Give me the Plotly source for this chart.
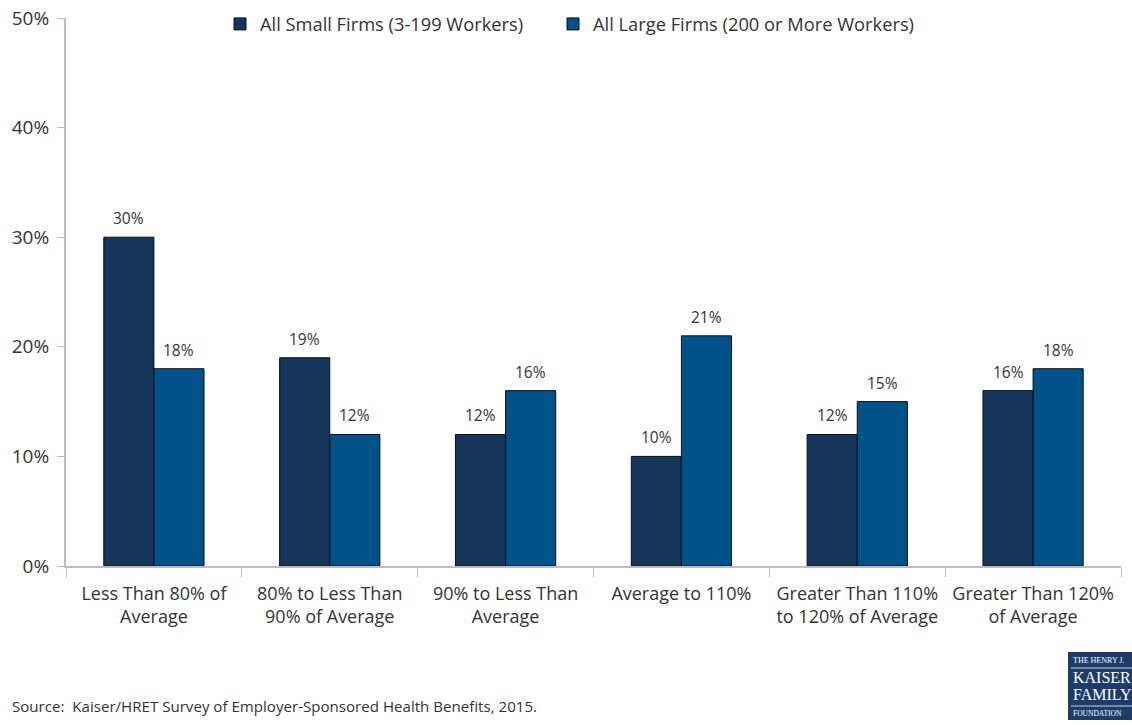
import plotly.graph_objects as go

categories = [
    "Less Than 80% of<br>Average",
    "80% to Less Than<br>90% of Average",
    "90% to Less Than<br>Average",
    "Average to 110%",
    "Greater Than 110%<br>to 120% of Average",
    "Greater Than 120%<br>of Average",
]
small_firms = [30, 19, 12, 10, 12, 16]
large_firms = [18, 12, 16, 21, 15, 18]
series_names = ["All Small Firms (3-199 Workers)", "All Large Firms (200 or More Workers)"]
y_ticks = [0, 10, 20, 30, 40, 50]

FONT = "Open Sans"
TEXT = "#333333"
AXIS = "#bdbdbd"
NAVY = "#15355a"
BLUE = "#005288"

L, R, T, B = 66, 11, 18, 159
W, H = 1132, 725
PW, PH = W - L - R, H - T - B
BARGAP = 0.43
bar_px = PW / len(categories) * (1 - BARGAP) / 2


def px_x(x):
    return (x - L) / PW


def px_y(y):
    return (T + PH - y) / PH


fig = go.Figure()
series = [
    (series_names[0], small_firms, NAVY, -1, "legend"),
    (series_names[1], large_firms, BLUE, 1, "legend2"),
]
for name, vals, color, side, leg in series:
    fig.add_trace(go.Bar(
        x=categories, y=vals, name=name, legend=leg,
        marker=dict(color=color, line=dict(color="#0a0f18", width=1)),
    ))
    # value labels above each bar
    for c, v in zip(categories, vals):
        fig.add_annotation(x=c, y=v, text=f"{v}%", showarrow=False,
                           xshift=side * bar_px / 2, yshift=6, yanchor="bottom",
                           font=dict(family=FONT, size=15.5, color=TEXT))

legend_style = dict(orientation="h", xanchor="left", y=px_y(24), yanchor="middle",
                    font=dict(family=FONT, size=18.3, color=TEXT),
                    itemwidth=30, bgcolor="rgba(0,0,0,0)")

fig.update_layout(
    width=W, height=H,
    margin=dict(l=L, r=R, t=T, b=B, autoexpand=False),
    paper_bgcolor="white", plot_bgcolor="white",
    barmode="group", bargap=BARGAP, bargroupgap=0,
    font=dict(family=FONT, color=TEXT),
    showlegend=True,
    legend=dict(x=px_x(220), **legend_style),
    legend2=dict(x=px_x(553), **legend_style),
    xaxis=dict(type="category", showline=True, linecolor=AXIS, linewidth=2, automargin=False,
               ticks="outside", tickson="boundaries", ticklen=9, tickcolor=AXIS, tickwidth=1,
               ticklabelstandoff=10,
               tickfont=dict(family=FONT, size=18, color=TEXT), showgrid=False),
    yaxis=dict(range=[0, 50], tickvals=y_ticks, ticktext=[f"{t}%" for t in y_ticks],
               showline=True, linecolor=AXIS, linewidth=2, automargin=False,
               ticks="outside", ticklen=7, tickcolor=AXIS, tickwidth=1,
               ticklabelstandoff=4,
               tickfont=dict(family=FONT, size=19, color=TEXT), showgrid=False, zeroline=False),
)

fig.add_annotation(
    text="Source:  Kaiser/HRET Survey of Employer-Sponsored Health Benefits, 2015.",
    xref="paper", yref="paper", x=px_x(10), y=px_y(706),
    xanchor="left", yanchor="middle", showarrow=False,
    font=dict(family=FONT, size=15.1, color=TEXT),
)

# Foundation logo block in the bottom-right corner
fig.add_shape(type="rect", xref="paper", yref="paper",
              x0=px_x(1068), x1=px_x(1140), y0=px_y(720), y1=px_y(652),
              fillcolor="#1d3c6a", line=dict(width=0), layer="above")
for ypx in (668, 706):
    fig.add_shape(type="line", xref="paper", yref="paper",
                  x0=px_x(1071), x1=px_x(1140), y0=px_y(ypx), y1=px_y(ypx),
                  line=dict(color="#c9d3e3", width=1), layer="above")
logo_lines = [("THE HENRY J.", 8, 660), ("KAISER", 16, 677), ("FAMILY", 16, 694), ("FOUNDATION", 7.5, 713)]
for txt, size, ypx in logo_lines:
    fig.add_annotation(text=txt, xref="paper", yref="paper",
                       x=px_x(1071), y=px_y(ypx),
                       xanchor="left", yanchor="middle", showarrow=False,
                       font=dict(family="Liberation Serif", size=size, color="white"))

fig.write_html("out.html")
